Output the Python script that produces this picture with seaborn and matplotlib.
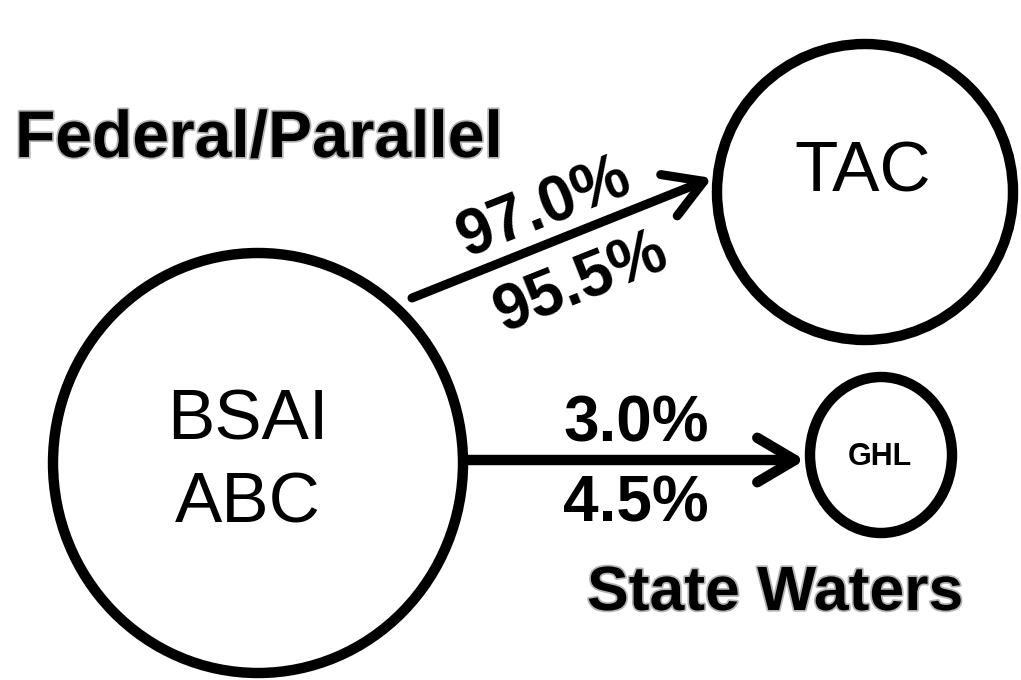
"""
Flow diagram: BSAI ABC split between federal/parallel TAC and state-waters GHL.
"""
import matplotlib
import matplotlib.pyplot as plt
import matplotlib.patheffects as pe
import seaborn as sns
from matplotlib.patches import Ellipse, FancyArrowPatch

matplotlib.use("Agg")

# data
node_names = ["BSAI\nABC", "TAC", "GHL"]
federal_pct = [97.0, 95.5]  # above / below the upper arrow
state_pct = [3.0, 4.5]      # above / below the lower arrow
group_labels = ["Federal/Parallel", "State Waters"]

# layout (pixel coordinates, y down)
node_xy = {"BSAI\nABC": (258, 463), "TAC": (865, 192), "GHL": (881, 455)}
node_wh = {"BSAI\nABC": (410, 420), "TAC": (296, 296), "GHL": (142, 156)}
node_text_xy = {"BSAI\nABC": (248, 463), "TAC": (863, 174), "GHL": (880, 457)}
node_fs = {"BSAI\nABC": 51, "TAC": 51, "GHL": 22}
node_fw = {"BSAI\nABC": "normal", "TAC": "normal", "GHL": "bold"}

sns.set_theme(style="white")
plt.rcParams["font.family"] = ["Liberation Sans", "DejaVu Sans"]
plt.rcParams["text.color"] = "black"

fig = plt.figure(figsize=(10.21, 6.80), dpi=100)
ax = fig.add_axes([0, 0, 1, 1])
ax.set_xlim(0, 1021)
ax.set_ylim(680, 0)
ax.set_axis_off()

lw_node = 7.5
for name in node_names:
    w, h = node_wh[name]
    ax.add_patch(Ellipse(node_xy[name], w, h, fill=False, ec="black", lw=lw_node))
    tx, ty = node_text_xy[name]
    ax.text(tx, ty, name, ha="center", va="center", fontsize=node_fs[name],
            fontweight=node_fw[name], color="black", linespacing=1.33)

# arrows
arrow_kw = dict(arrowstyle="->,head_length=27,head_width=16", mutation_scale=1,
                color="black", shrinkA=0, shrinkB=0, capstyle="round",
                joinstyle="round")
ax.add_patch(FancyArrowPatch((412, 298), (712, 178), lw=6.5, **arrow_kw))
ax.add_patch(FancyArrowPatch((466, 460), (805, 460), lw=7.5, **arrow_kw))

# edge labels
angle = 21.6
pct_fs = 46
ax.text(551, 224, f"{federal_pct[0]:.1f}%", rotation=angle, rotation_mode="anchor",
        ha="center", va="baseline", fontsize=pct_fs, fontweight="bold", color="black")
ax.text(588, 299, f"{federal_pct[1]:.1f}%", rotation=angle, rotation_mode="anchor",
        ha="center", va="baseline", fontsize=pct_fs, fontweight="bold", color="black")
ax.text(636, 442, f"{state_pct[0]:.1f}%", ha="center", va="baseline",
        fontsize=pct_fs, fontweight="bold", color="black")
ax.text(636, 522, f"{state_pct[1]:.1f}%", ha="center", va="baseline",
        fontsize=pct_fs, fontweight="bold", color="black")

# group labels with a light grey halo
halo = [pe.withStroke(linewidth=2.5, foreground="#b4b4b4")]
ax.text(15, 157, group_labels[0], ha="left", va="baseline", fontsize=47.5,
        fontweight="bold", color="black", path_effects=halo)
ax.text(587, 610, group_labels[1], ha="left", va="baseline", fontsize=45,
        fontweight="bold", color="black", path_effects=halo)

fig.savefig("out.png", dpi=100, facecolor="white")
